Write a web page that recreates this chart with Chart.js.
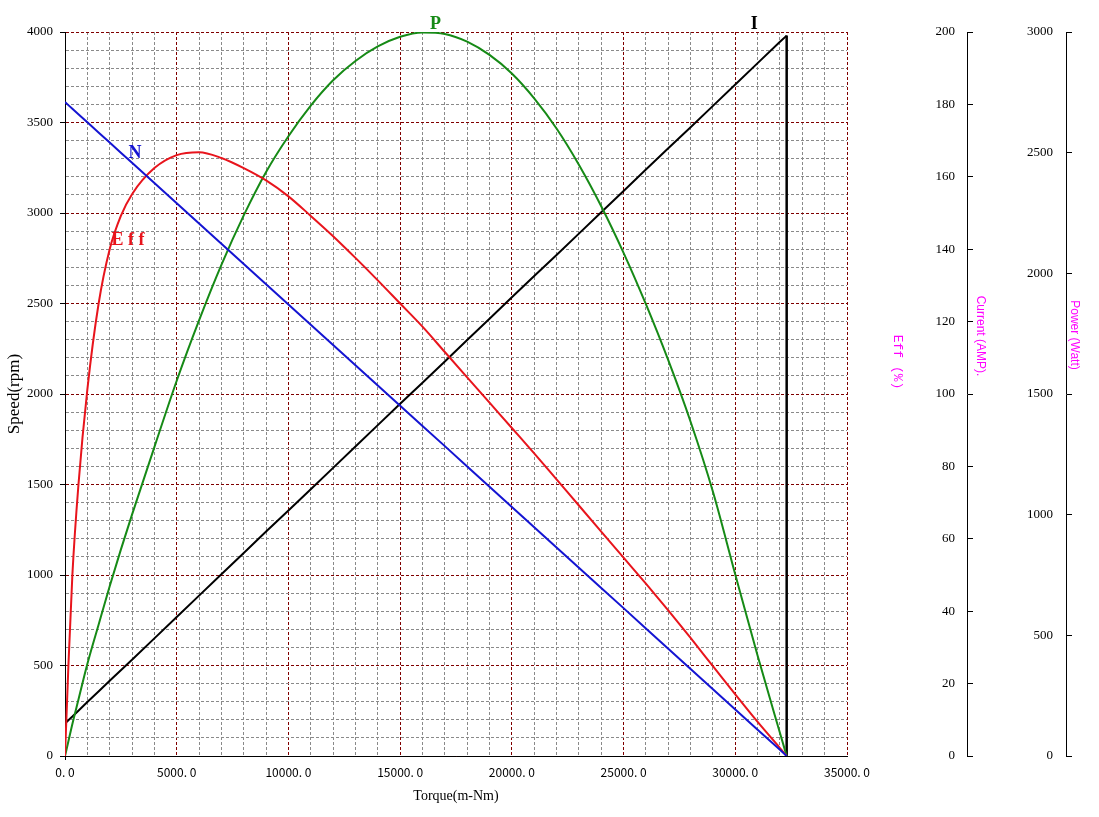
<!DOCTYPE html>
<html>
<head>
<meta charset="utf-8">
<title>Motor performance curve</title>
<script src="https://cdn.jsdelivr.net/npm/chart.js@4.4.1/dist/chart.umd.min.js"></script>
<style>
  html, body { margin: 0; padding: 0; background: #fff; }
  #wrap { width: 1099px; height: 817px; position: relative; }
</style>
</head>
<body>
<div id="wrap"><canvas id="motor"></canvas></div>
<script>
// torque sample points (m-Nm), shared by all curves
const torque = [0, 150, 330, 600, 1000, 1500, 2000, 2500, 3000,
  4000, 5000, 6000, 7000, 8000, 9000, 10000, 11000, 12000, 13000, 14000,
  15000, 16000, 17000, 18000, 19000, 20000, 21000, 22000, 23000, 24000,
  25000, 26000, 27000, 28000, 29000, 30000, 31000, 32000, 32300];

// N - speed (rpm)
const speed = [3613, 3596, 3576, 3546, 3501, 3445, 3389, 3333, 3277,
  3166, 3054, 2942, 2830, 2718, 2606, 2494, 2383, 2271, 2159, 2047,
  1935, 1823, 1712, 1600, 1488, 1376, 1264, 1152, 1040, 928,
  817, 705, 593, 481, 369, 257, 145, 34, 0];

// Eff - efficiency (%)
const eff = [0, 12.3, 25, 37.4, 50.6, 62.4, 70.0, 74.6, 77.6,
  81.2, 83.0, 83.4, 82.6, 81.2, 79.5, 77.3, 74.6, 71.8, 68.8, 65.7,
  62.5, 59.3, 55.8, 52.3, 48.8, 45.3, 41.8, 38.2, 34.6, 31.0,
  27.4, 23.8, 20.1, 16.3, 12.4, 8.5, 4.7, 1.1, 0];

// I - current (AMP)
const current = [9.0, 9.9, 10.9, 12.5, 14.9, 17.8, 20.8, 23.7, 26.6,
  32.5, 38.4, 44.3, 50.2, 56.1, 62.0, 67.8, 73.7, 79.6, 85.5, 91.4,
  97.3, 103.1, 109.0, 114.9, 120.8, 126.7, 132.6, 138.4, 144.3, 150.2,
  156.1, 162.0, 167.9, 173.7, 179.6, 185.5, 191.4, 197.3, 199.0];

// stall drop of the current line
const stallTorque = [32300, 32300];
const stallCurrent = [199.0, 0];

// P - output power (Watt)
const power = [0, 60, 133, 233, 381, 543, 703, 855, 1000,
  1280, 1555, 1805, 2035, 2240, 2420, 2568, 2695, 2800, 2880, 2940,
  2980, 2998, 2992, 2960, 2905, 2828, 2725, 2600, 2450, 2278,
  2085, 1872, 1640, 1385, 1095, 752, 415, 95, 0];

const MAJOR = '#800000';
const MINOR = '#8a8a8a';
const BLUE = '#1414d2';
const RED = '#e8141c';
const GREEN = '#168a16';
const MAGENTA = '#ff00ff';

function pts(xs, ys) {
  return xs.map((x, i) => ({ x: x, y: ys[i] }));
}

function gridColor(step) {
  return ctx => (ctx.tick && ctx.tick.value % step === 0) ? MAJOR : MINOR;
}

// curve names, placed in data coordinates (torque, speed scale)
const curveTags = [
  { text: 'N', color: BLUE, t: 3130, v: 3330 },
  { text: 'E f f', color: RED, t: 2820, v: 2850 },
  { text: 'P', color: GREEN, t: 16580, v: 4040 },
  { text: 'I', color: '#000', t: 30850, v: 4040 }
];

// rotated titles on the right side
const sideTitles = [
  { text: 'Eff (%)', scale: 'yCur', dx: -70, dy: 330, font: '13px "Liberation Mono"' },
  { text: 'Current (AMP).', scale: 'yCur', dx: 13, dy: 304, font: '12px "Liberation Sans"' },
  { text: 'Power (Watt)', scale: 'yPow', dx: 8, dy: 303, font: '12px "Liberation Sans"' }
];

const labelPlugin = {
  id: 'labelPlugin',
  afterDraw(chart) {
    const c = chart.ctx;
    const sx = chart.scales.x, sy = chart.scales.y;
    c.save();
    c.textAlign = 'center';
    c.textBaseline = 'middle';
    c.font = 'bold 18px "Liberation Serif"';
    curveTags.forEach(tag => {
      c.fillStyle = tag.color;
      c.fillText(tag.text, sx.getPixelForValue(tag.t), sy.getPixelForValue(tag.v));
    });
    sideTitles.forEach(st => {
      const s = chart.scales[st.scale];
      c.save();
      c.translate(s.left + st.dx, chart.chartArea.top + st.dy);
      c.rotate(Math.PI / 2);
      c.font = st.font;
      c.fillStyle = MAGENTA;
      c.fillText(st.text, 0, 0);
      c.restore();
    });
    c.restore();
  }
};

const serif = { family: '"Liberation Serif"', size: 13 };

new Chart(document.getElementById('motor'), {
  type: 'line',
  data: {
    datasets: [
      {
        label: 'N',
        data: pts(torque, speed),
        yAxisID: 'y',
        borderColor: BLUE,
        borderWidth: 2,
        pointRadius: 0,
        tension: 0
      },
      {
        label: 'Eff',
        data: pts(torque, eff),
        yAxisID: 'yEff',
        borderColor: RED,
        borderWidth: 2,
        pointRadius: 0,
        cubicInterpolationMode: 'monotone'
      },
      {
        label: 'P',
        data: pts(torque, power),
        yAxisID: 'yPow',
        borderColor: GREEN,
        borderWidth: 2,
        pointRadius: 0,
        cubicInterpolationMode: 'monotone'
      },
      {
        label: 'I',
        data: pts(torque, current),
        yAxisID: 'yCur',
        borderColor: '#000',
        borderWidth: 2,
        pointRadius: 0,
        tension: 0
      },
      {
        label: 'I stall',
        data: pts(stallTorque, stallCurrent),
        yAxisID: 'yCur',
        borderColor: '#000',
        borderWidth: 2.5,
        pointRadius: 0,
        tension: 0
      }
    ]
  },
  options: {
    responsive: true,
    maintainAspectRatio: false,
    animation: false,
    layout: { padding: { top: 32, right: 0, bottom: 0, left: 0 } },
    plugins: {
      legend: { display: false },
      tooltip: { enabled: false }
    },
    scales: {
      x: {
        type: 'linear',
        min: 0,
        max: 35000,
        ticks: {
          stepSize: 1000,
          autoSkip: false,
          maxRotation: 0,
          padding: 5,
          color: '#000',
          font: { family: '"Noto Sans CJK JP"', size: 12 },
          callback: v => v % 5000 === 0 ? v.toFixed(1).replace('.', '. ') : ''
        },
        grid: {
          color: gridColor(5000),
          lineWidth: 1,
          tickLength: 4,
          tickColor: ctx => (ctx.tick && ctx.tick.value === 0) ? '#000' : 'rgba(0,0,0,0)'
        },
        border: { color: '#000', width: 1, dash: [3, 2] },
        title: {
          display: true,
          text: 'Torque(m-Nm)',
          color: '#000',
          font: { family: '"Liberation Serif"', size: 14 },
          padding: { top: 0, bottom: 12 }
        },
        afterFit: s => { s.height = 61; }
      },
      y: {
        position: 'left',
        min: 0,
        max: 4000,
        ticks: {
          stepSize: 100,
          autoSkip: false,
          padding: 7,
          color: '#000',
          font: serif,
          callback: v => v % 500 === 0 ? String(v) : ''
        },
        grid: {
          color: gridColor(500),
          lineWidth: 1,
          tickLength: 5,
          tickColor: ctx => (ctx.tick && ctx.tick.value % 500 === 0) ? '#000' : 'rgba(0,0,0,0)'
        },
        border: { color: '#000', width: 1, dash: [3, 2] },
        title: {
          display: true,
          text: 'Speed(rpm)',
          color: '#000',
          font: { family: '"Liberation Serif"', size: 17 },
          padding: { top: 4, bottom: 0 }
        },
        afterFit: s => { s.width = 65; }
      },
      yEff: {
        position: 'right',
        min: 0,
        max: 100,
        ticks: { display: false },
        grid: { display: false },
        border: { display: false },
        afterFit: s => { s.width = 120; }
      },
      yCur: {
        position: 'right',
        min: 0,
        max: 200,
        ticks: {
          stepSize: 20, mirror: true, padding: -12, color: '#000', font: serif,
          callback: v => String(v)
        },
        grid: { drawOnChartArea: false, tickLength: 6, color: '#000' },
        border: { color: '#000', width: 1 },
        afterFit: s => { s.width = 99; }
      },
      yPow: {
        position: 'right',
        min: 0,
        max: 3000,
        ticks: {
          stepSize: 500, mirror: true, padding: -13, color: '#000', font: serif,
          callback: v => String(v)
        },
        grid: { drawOnChartArea: false, tickLength: 6, color: '#000' },
        border: { color: '#000', width: 1 },
        afterFit: s => { s.width = 33; }
      }
    }
  },
  plugins: [labelPlugin]
});
</script>
</body>
</html>
